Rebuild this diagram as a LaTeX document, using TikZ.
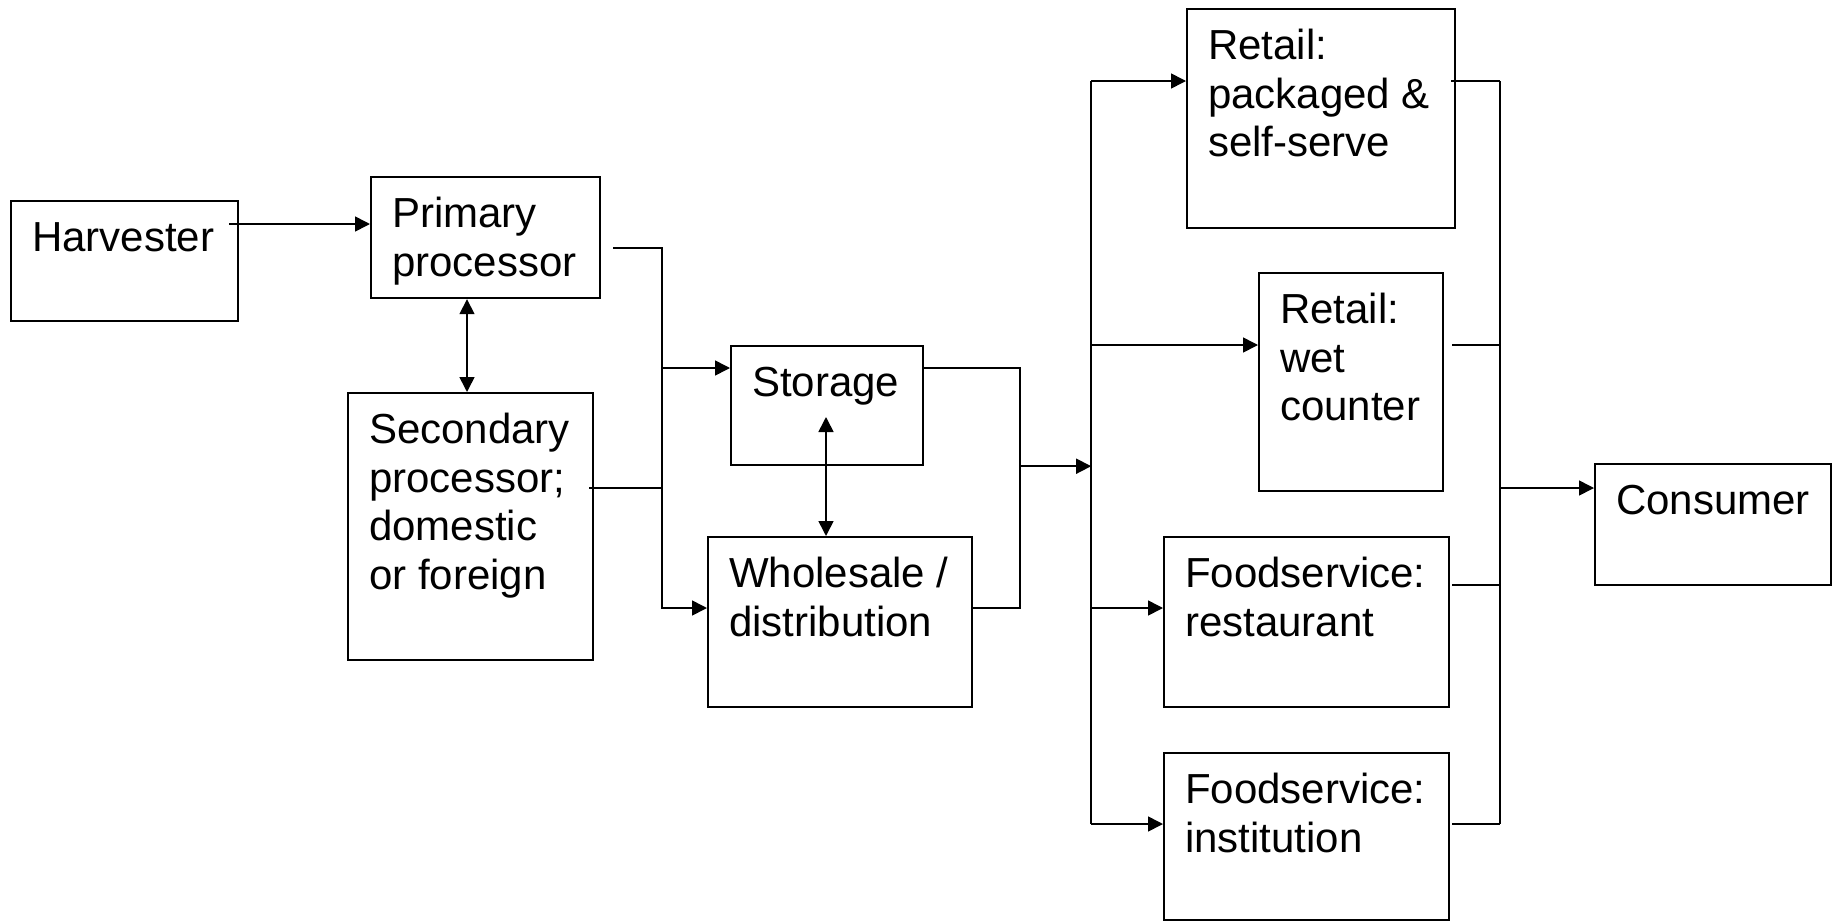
\documentclass[tikz,border=0pt]{standalone}
\usepackage{fontspec}
\setmainfont{Liberation Sans}
\usetikzlibrary{arrows.meta,calc}
\newcommand{\boxtxt}[3]{\parbox[t][#2][t]{#1}{\raggedright\leftskip=21pt\relax\vspace*{16.5pt}\strut #3}}
\tikzset{
  box/.style={draw, line width=2.2pt, inner sep=0pt, anchor=north west, font=\fontsize{42}{48.5}\selectfont},
  conn/.style={line width=1.6pt},
  arr/.style={conn, -{Triangle[length=15pt,width=15pt]}},
  darr/.style={conn, {Triangle[length=15pt,width=15pt]}-{Triangle[length=15pt,width=15pt]}},
}
\begin{document}
\begin{tikzpicture}[x=1pt,y=-1pt]
\useasboundingbox (0,0) rectangle (1832,921);
% boxes
\node[box] (harv) at (10,200)   {\boxtxt{227pt}{120pt}{Harvester}};
\node[box] (prim) at (370,176)  {\boxtxt{229pt}{121pt}{Primary\\processor}};
\node[box] (sec)  at (347,392)  {\boxtxt{245pt}{267pt}{Secondary\\processor;\\domestic\\or foreign}};
\node[box] (stor) at (730,345)  {\boxtxt{192pt}{119pt}{Storage}};
\node[box] (whol) at (707,536)  {\boxtxt{264pt}{170pt}{Wholesale /\\distribution}};
\node[box] (pkg)  at (1186,8)   {\boxtxt{268pt}{219pt}{Retail:\\packaged \&\\self-serve}};
\node[box] (wet)  at (1258,272) {\boxtxt{184pt}{218pt}{Retail:\\wet\\counter}};
\node[box] (rest) at (1163,536) {\boxtxt{285pt}{170pt}{Foodservice:\\restaurant}};
\node[box] (inst) at (1163,752) {\boxtxt{285pt}{167pt}{Foodservice:\\institution}};
\node[box] (cons) at (1594,463) {\boxtxt{236pt}{121pt}{Consumer}};
% coordinates
\coordinate (h1) at ($(harv.north east)+(-10,24)$);
\coordinate (ps) at ($(prim.south west)+(97,0)$);
\coordinate (p1) at ($(prim.north east)+(12,72)$);
\coordinate (T1) at ($(p1)+(49,0)$);
\coordinate (w1) at ($(whol.north west)+(0,72)$);
\coordinate (s1) at ($(stor.north west)+(0,23)$);
\coordinate (sc1) at ($(sec.north east)+(-5,96)$);
\coordinate (sw) at ($(stor.north west)+(96,72)$);
\coordinate (s2) at (stor.east |- s1);
\coordinate (T2) at ($(s2)+(96,0)$);
\coordinate (L) at ($(T2)+(71,0)$);
\coordinate (r1) at ($(pkg.north west)+(0,73)$);
\coordinate (r2) at ($(wet.north west)+(0,73)$);
\coordinate (r3) at ($(rest.north west)+(0,72)$);
\coordinate (r4) at ($(inst.north west)+(0,72)$);
\coordinate (q1) at ($(pkg.north east)+(-5,73)$);
\coordinate (q2) at ($(wet.north east)+(8,73)$);
\coordinate (q3) at ($(rest.north east)+(2,49)$);
\coordinate (q4) at ($(inst.north east)+(2,72)$);
\coordinate (R) at ($(q1)+(49,0)$);
\coordinate (c1) at ($(cons.north west)+(0,25)$);
% connectors
\draw[arr] (h1) -- (h1 -| prim.west);
\draw[darr] (ps) -- (ps |- sec.north);
\draw[arr] (p1) -- (T1) |- (w1);
\draw[arr] (T1 |- s1) -- (s1);
\draw[conn] (sc1) -- (sc1 -| T1);
\draw[darr] (sw) -- (sw |- whol.north);
\draw[conn] (s2) -- (T2) |- (whol.east |- w1);
\draw[arr] (T2 |- stor.south) -- (L |- stor.south);
\draw[conn] (L |- r1) -- (L |- r4);
\draw[arr] (L |- r1) -- (r1);
\draw[arr] (L |- r2) -- (r2);
\draw[arr] (L |- r3) -- (r3);
\draw[arr] (L |- r4) -- (r4);
\draw[conn] (q1) -- (q1 -| R);
\draw[conn] (q2) -- (q2 -| R);
\draw[conn] (q3) -- (q3 -| R);
\draw[conn] (q4) -- (q4 -| R);
\draw[conn] (R |- q1) -- (R |- q4);
\draw[arr] (R |- c1) -- (c1);
\end{tikzpicture}
\end{document}
